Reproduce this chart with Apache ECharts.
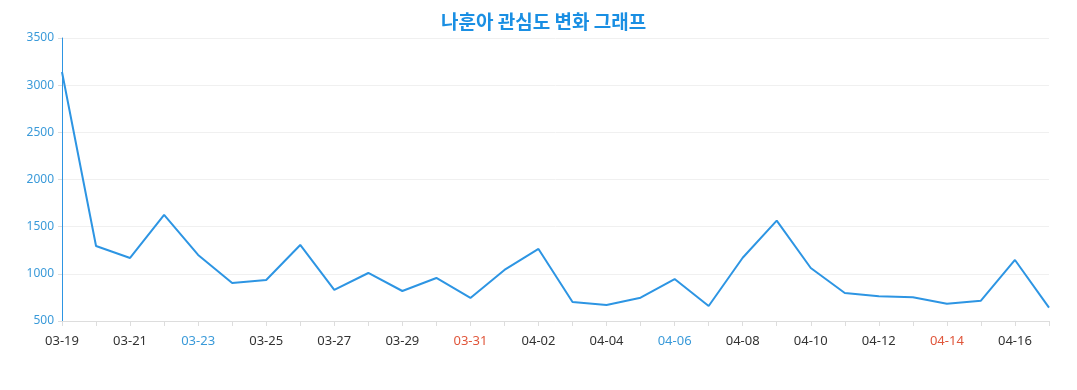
<!DOCTYPE html>
<html><head><meta charset="utf-8">
<script src="https://cdn.jsdelivr.net/npm/echarts@6/dist/echarts.min.js"></script>
<style>html,body{margin:0;padding:0;background:#fff}#c{width:1077px;height:390px}</style>
</head><body><div id="c"></div>
<script>
const categories = ['03-19','03-20','03-21','03-22','03-23','03-24','03-25','03-26','03-27','03-28','03-29','03-30','03-31','04-01','04-02','04-03','04-04','04-05','04-06','04-07','04-08','04-09','04-10','04-11','04-12','04-13','04-14','04-15','04-16','04-17'];
const values = [3140,1295,1168,1624,1200,903,935,1306,829,1009,818,956,744,1041,1264,701,670,747,945,659,1171,1564,1062,797,762,751,683,715,1147,641];
const saturdayLabels = ['03-23','04-06'];
const sundayLabels = ['03-31','04-14'];
const yTicks = {min: 500, max: 3500, interval: 500};

const chart = echarts.init(document.getElementById('c'));
chart.setOption({
  animation: false,
  title: {text: '나훈아 관심도 변화 그래프', left: 436, top: 7,
    textStyle: {color: '#1a8fe3', fontSize: 19, fontWeight: 'bold', fontFamily: 'Noto Sans CJK KR'}},
  grid: {left: 62, right: 28, top: 38, bottom: 69},
  xAxis: {type: 'category', data: categories, boundaryGap: false,
    axisLine: {lineStyle: {color: '#dddddd'}},
    axisTick: {interval: 0, lineStyle: {color: '#dddddd'}},
    axisLabel: {interval: 1, margin: 14, fontSize: 13, fontFamily: 'Noto Sans',
      color: function(v){ return saturdayLabels.includes(v) ? '#3a9ad9' : (sundayLabels.includes(v) ? '#e0563b' : '#333333'); }}},
  yAxis: {type: 'value', min: yTicks.min, max: yTicks.max, interval: yTicks.interval,
    axisLine: {show: true, lineStyle: {color: '#2d95e3'}},
    axisTick: {show: true, length: 4, lineStyle: {color: '#dddddd'}},
    axisLabel: {color: '#3a9ad9', fontSize: 12, fontFamily: 'Noto Sans', margin: 8,
      formatter: function(v){ return String(v); }},
    splitLine: {lineStyle: {color: '#f0f0f0'}}},
  series: [{type: 'line', data: values, showSymbol: false, symbol: 'none',
    lineStyle: {color: '#2d95e3', width: 2}, itemStyle: {color: '#2d95e3'}}]
});
</script></body></html>
